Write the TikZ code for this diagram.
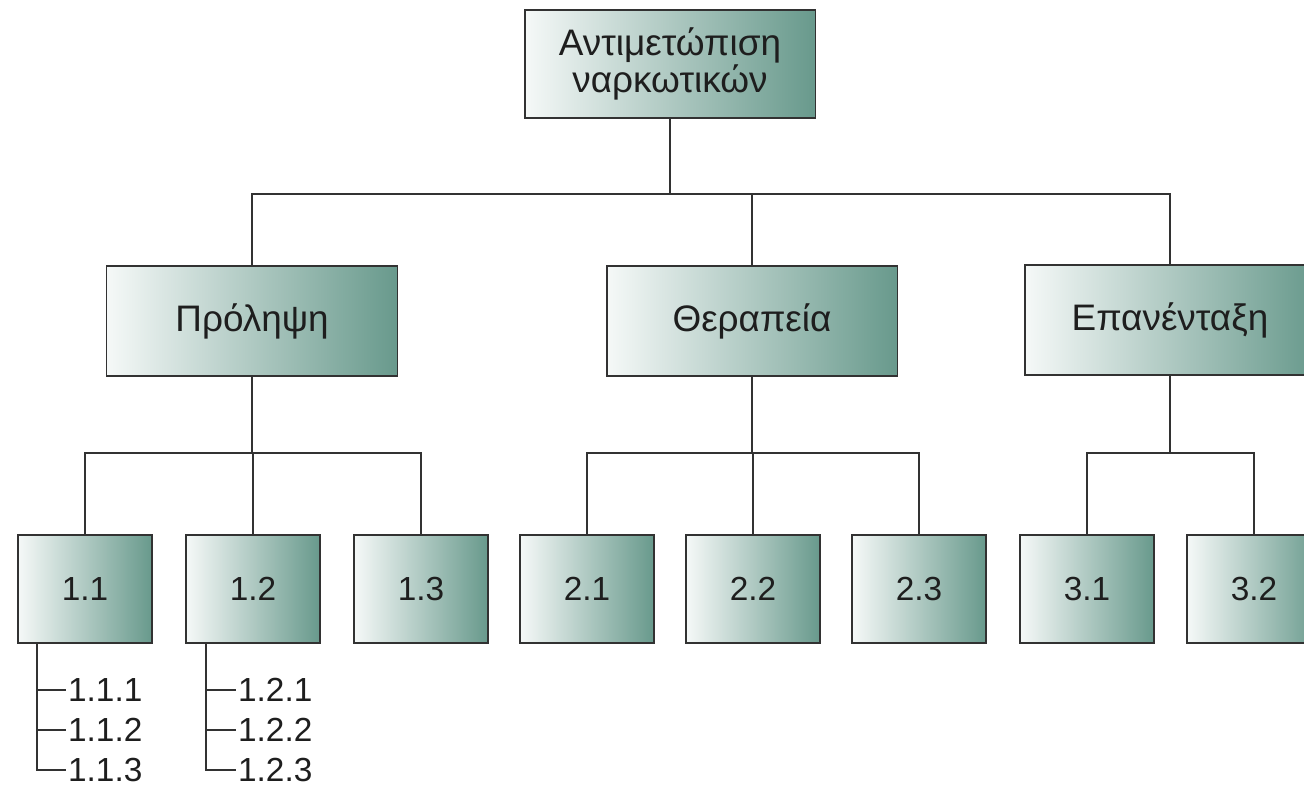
\documentclass[tikz,border=0pt]{standalone}
\usepackage{fontspec}
\setmainfont{Liberation Sans}
\usepackage{xcolor}
\usetikzlibrary{positioning}
\definecolor{boxdark}{RGB}{96,148,134}
\definecolor{boxline}{RGB}{50,50,50}
\definecolor{inktext}{RGB}{30,30,30}
\tikzset{
    topic/.style={
        rectangle, draw=boxline, line width=1.1pt,
        left color=boxdark!6, middle color=boxdark!50, right color=boxdark!95,
        minimum width=5.82cm, minimum height=2.2cm, text=inktext,
        align=center, font=\fontsize{21}{20}\selectfont
    },
    leaf/.style={
        topic, minimum width=2.68cm, minimum height=2.16cm,
        font=\fontsize{19}{20}\selectfont
    },
    item/.style={
        inner sep=1pt, anchor=west, text=inktext,
        font=\fontsize{19}{20}\selectfont
    },
    link/.style={draw=boxline, line width=1.1pt}
}
\begin{document}
\begin{tikzpicture}[x=0.02cm, y=-0.02cm]
\useasboundingbox (0,0) rectangle (1304,790);

%% Root box
\node[topic, minimum height=2.16cm] (root) at (670, 64) {Αντιμετώπιση\\ναρκωτικών};

%% Second level
\node[topic] (prol) at (252, 321)  {Πρόληψη};
\node[topic] (ther) at (752, 321)  {Θεραπεία};
\node[topic] (epan) at (1170, 320) {Επανένταξη};

%% Third level -- spacing about 167px
\node[leaf] (b11) at (85, 589)   {1.1};
\node[leaf] (b12) at (253, 589)  {1.2};
\node[leaf] (b13) at (421, 589)  {1.3};
\node[leaf] (b21) at (587, 589)  {2.1};
\node[leaf] (b22) at (753, 589)  {2.2};
\node[leaf] (b23) at (919, 589)  {2.3};
\node[leaf] (b31) at (1087, 589) {3.1};
\node[leaf] (b32) at (1254, 589) {3.2};

%% Sub items
\node[item] (s111) at (66, 690) {1.1.1};
\node[item] (s112) at (66, 730) {1.1.2};
\node[item] (s113) at (66, 770) {1.1.3};
\node[item] (s121) at (236, 690) {1.2.1};
\node[item] (s122) at (236, 730) {1.2.2};
\node[item] (s123) at (236, 770) {1.2.3};

%% Root -> second level (bus at y=193)
\foreach \n in {prol, ther, epan}
    \draw[link] (root.south) -- ++(0, 75) -| (\n.north);

%% Second level -> third level (bus at y=452)
\foreach \n in {b11, b12, b13}
    \draw[link] (prol.south) -- ++(0, 76) -| (\n.north);
\foreach \n in {b21, b22, b23}
    \draw[link] (ther.south) -- ++(0, 76) -| (\n.north);
\foreach \n in {b31, b32}
    \draw[link] (epan.south) -- ++(0, 77) -| (\n.north);

%% Sub item ticks
\foreach \n in {s111, s112, s113}
    \draw[link] ([xshift=0.4cm]b11.south west) |- (\n.west);
\foreach \n in {s121, s122, s123}
    \draw[link] ([xshift=0.42cm]b12.south west) |- (\n.west);

\end{tikzpicture}
\end{document}
